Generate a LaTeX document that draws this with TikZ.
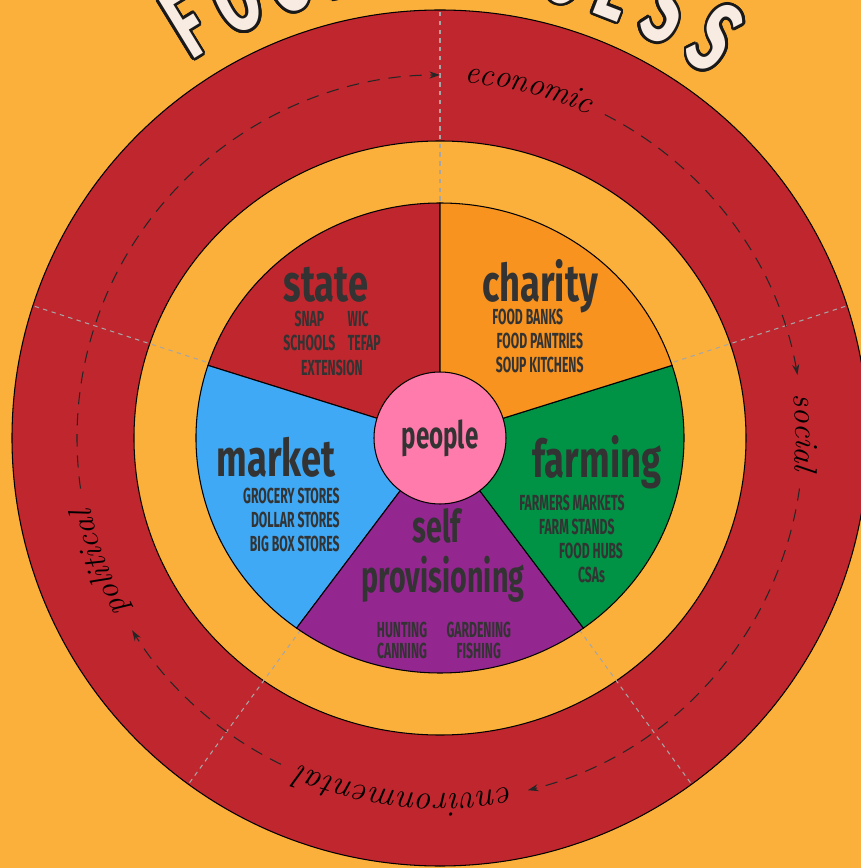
\documentclass[tikz,border=0pt]{standalone}
\usepackage{fontspec}
\usepackage{contour}
\usetikzlibrary{arrows.meta, decorations.text}

\newfontfamily\headfont{Fira Sans}[FakeStretch=0.70]
\newfontfamily\narrowfont{Fira Sans}[FakeStretch=0.64]
\newfontfamily\listfont{Fira Sans}[FakeStretch=0.56]
\newfontfamily\titlefont{Fira Sans}[FakeStretch=0.62]

\definecolor{bgyellow}{HTML}{FBB03B}
\definecolor{ringred}{HTML}{BF262E}
\definecolor{charityorange}{HTML}{F7931E}
\definecolor{farmgreen}{HTML}{009245}
\definecolor{selfpurple}{HTML}{93278F}
\definecolor{marketblue}{HTML}{3FA9F5}
\definecolor{peoplepink}{HTML}{FF7BAC}
\definecolor{inkgray}{HTML}{333333}
\definecolor{cream}{HTML}{F8EBE2}
\definecolor{guidegray}{HTML}{A6A6A6}

\contourlength{1.5pt}
\contournumber{24}

\tikzset{
  heading/.style={text=inkgray, font=\headfont\bfseries\fontsize{29.5}{30}\selectfont, inner sep=0pt, anchor=base},
  itemlist/.style={text=inkgray, font=\listfont\bfseries\fontsize{12.4}{13.8}\selectfont, inner sep=0pt},
  ringarrow/.style={draw=black!85, line width=0.6pt, dash pattern=on 7pt off 5pt, -{Stealth[length=6pt,width=4pt]}},
  ringlabel/.style={decorate, decoration={text along path, text align=fit to path, raise=-4pt}},
  guide/.style={draw=guidegray, line width=0.6pt, dash pattern=on 2.5pt off 2.5pt},
  titleletter/.style={text=cream, font=\titlefont\bfseries\fontsize{56}{56}\selectfont, inner sep=0pt, anchor=base}
}

\begin{document}
\begin{tikzpicture}[x=0.02cm, y=0.02cm]
  \useasboundingbox (-440,-430) rectangle (421,438);
  \clip (-440,-430) rectangle (421,438);
  \fill[bgyellow] (-440,-430) rectangle (421,438);

  % rings
  \filldraw[fill=ringred, draw=black, line width=0.6pt] (0,0) circle[radius=428];
  \filldraw[fill=bgyellow, draw=black, line width=0.6pt] (0,0) ellipse[x radius=306, y radius=297];

  % dashed guides
  \foreach \a in {18,90,162,234,306}
    \draw[guide] (0,0) -- (\a:428);

  % cycle arrows
  \foreach \from/\to in {188/90, 63/10, -8/-76, -116/-148}
    \draw[ringarrow] (\from:363) arc[start angle=\from, end angle=\to, radius=363];

  \path[ringlabel, decoration={text={|\fontsize{18.5}{18}\selectfont\itshape|economic}}]
    (86:363) arc[start angle=86, end angle=66, radius=363];
  \path[ringlabel, decoration={text={|\fontsize{18.5}{18}\selectfont\itshape|social}}]
    (7:363) arc[start angle=7, end angle=-5, radius=363];
  \path[ringlabel, decoration={text={|\fontsize{19.5}{19}\selectfont\itshape|environmental}}]
    (-78.5:363) arc[start angle=-78.5, end angle=-113, radius=363];
  \path[ringlabel, decoration={text={|\fontsize{18.5}{18}\selectfont\itshape|political}}]
    (-151:363) arc[start angle=-151, end angle=-168.5, radius=363];

  % sectors
  \foreach \a/\col in {90/ringred, 162/marketblue, 234/selfpurple, 306/farmgreen, 18/charityorange}
    \filldraw[fill=\col, draw=black, line width=0.6pt] (0,0) -- ({244*cos(\a)},{235*sin(\a)})
      arc[start angle=\a, end angle=\a+72, x radius=244, y radius=235] -- cycle;

  \node[circle, draw=black, line width=0.6pt, fill=peoplepink, minimum size=2.64cm, inner sep=0pt,
    text=inkgray, font=\narrowfont\bfseries\fontsize{21.5}{22}\selectfont] (people) at (0,0) {people};

  % state
  \node[heading] (state) at (-114,136) {state};
  \node[itemlist] (statelist) at (-108,92)
    {\begin{tabular}{@{}c@{\hspace{7pt}}l@{}}SNAP & WIC\\ SCHOOLS & TEFAP\\ \multicolumn{2}{@{}c@{}}{EXTENSION}\end{tabular}};

  % charity
  \node[heading] (charity) at (100,136) {charity};
  \node[itemlist, anchor=west, align=left] (charitylist) at (52,97)
    {FOOD BANKS\\\hspace*{2.5pt}FOOD PANTRIES\\\hspace*{2pt}SOUP KITCHENS};

  % market
  \node[heading] (market) at (-164,-39) {market};
  \node[itemlist, anchor=east, align=right] (marketlist) at (-100,-82)
    {GROCERY STORES\\DOLLAR STORES\\BIG BOX STORES};

  % farming
  \node[heading] (farming) at (157,-40) {farming};
  \node[itemlist, anchor=west, align=left] (farminglist) at (79,-101)
    {FARMERS MARKETS\\\hspace*{11.3pt}FARM STANDS\\\hspace*{22.7pt}FOOD HUBS\\\hspace*{33.4pt}CSAs};

  % self provisioning
  \node[heading, font=\narrowfont\bfseries\fontsize{25.5}{26}\selectfont] (self) at (-3,-105) {self};
  \node[heading, font=\narrowfont\bfseries\fontsize{25.5}{26}\selectfont] (prov) at (3,-154) {provisioning};
  \node[itemlist, font=\listfont\bfseries\fontsize{12.4}{11}\selectfont] (selflist) at (4,-205)
    {\begin{tabular}{@{}c@{\hspace{11pt}}c@{}}HUNTING & GARDENING\\ CANNING & FISHING\end{tabular}};

  % title
  \foreach \ch/\a [count=\i] in {F/121.5, O/114.9, O/108.3, D/101.7, A/88.5, C/81.9, C/75.3, E/68.7, S/62.1, S/55.5}
    \node[titleletter, rotate=\a-90] (title\i) at (\a:452) {\contour{black!90}{\ch}};
\end{tikzpicture}
\end{document}
